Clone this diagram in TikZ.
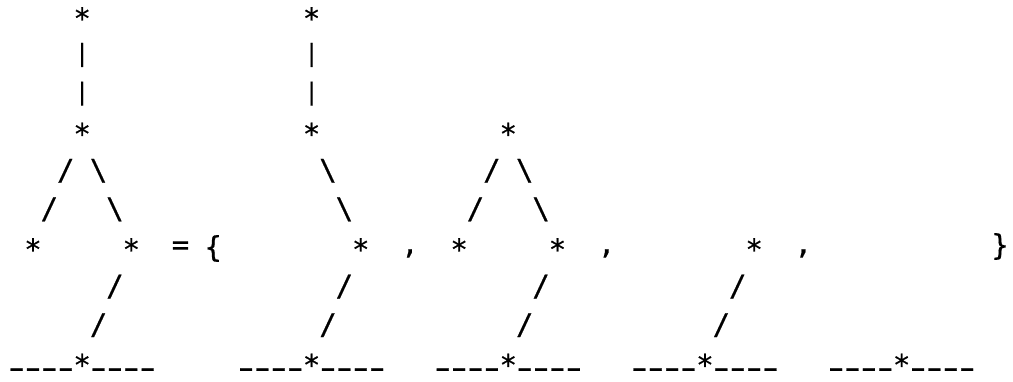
\documentclass[tikz,border=0pt]{standalone}
\usepackage{fontspec}
\usepackage{graphicx}
\newfontfamily\asciifont[FakeBold=0.5]{DejaVu Sans Mono}

\begin{document}
\begin{tikzpicture}[x=1pt,y=-1pt,
  glyph/.style={inner sep=0pt,font=\asciifont\fontsize{29}{29}\selectfont},
  barglyph/.style={inner sep=0pt,font=\asciifont\fontsize{24}{24}\selectfont}]
  \useasboundingbox (0,0) rectangle (1013,382);
  % column c -> 8.4+(c+0.5)*16.39, row r -> 38.5 per row
  \foreach \c/\r in {4/1,18/1,4/4,18/4,30/4,1/7,7/7,21/7,27/7,33/7,45/7,4/10,18/10,30/10,42/10,54/10}
    \node[glyph] (star-\c-\r) at ({8.4+(\c+0.5)*16.39},{18+(\r-1)*38.5}) {*};
  \foreach \c/\r in {4/2,4/3,18/2,18/3}
    \node[barglyph] (bar-\c-\r) at ({8.4+(\c+0.5)*16.39},{16.4+(\r-1)*38.6}) {|};
  \foreach \c/\r in {3/5,29/5,2/6,28/6,6/8,20/8,32/8,44/8,5/9,19/9,31/9,43/9}
    \node[glyph] (left-\c-\r) at ({8.4+(\c+0.5)*16.39},{16.4+(\r-1)*38.6}) {/};
  \foreach \c/\r in {5/5,19/5,31/5,6/6,20/6,32/6}
    \node[glyph] (right-\c-\r) at ({8.4+(\c+0.5)*16.39},{16.4+(\r-1)*38.6}) {\textbackslash};
  % ground lines
  \foreach \s in {0,14,26,38,50}
    \foreach \d in {0,1,2,3,5,6,7,8}
      \node[glyph] (dash-\s-\d) at ({8.4+(\s+\d+0.5)*16.39},373) {\scalebox{1.6}[1]{-}};
  \node[glyph] (eq) at ({8.4+10.5*16.39},248) {=};
  \node[glyph] (open) at ({8.4+12.5*16.39},248.5) {\{};
  \node[glyph] (close) at ({8.4+60.5*16.39},246.5) {\}};
  \foreach \c in {24,36,48}
    \node[glyph] (comma-\c) at ({8.4+(\c+0.5)*16.39},253.5) {,};
\end{tikzpicture}
\end{document}
